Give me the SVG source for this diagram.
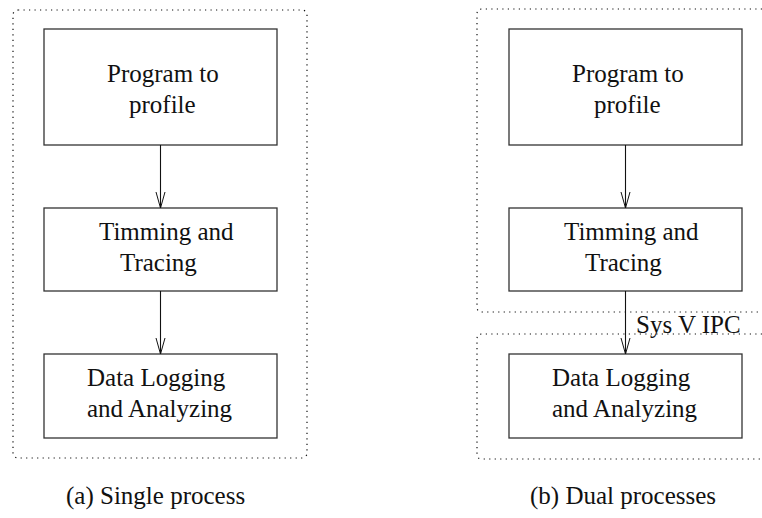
<svg xmlns="http://www.w3.org/2000/svg" width="762" height="518" viewBox="0 0 762 518" font-family="'Liberation Serif', 'Times New Roman', serif" font-size="25">
  <style>
    text { font-family: 'Liberation Serif', 'Times New Roman', serif; font-size: 25px; fill: #111; }
    .node { fill: #fff; stroke: #333; stroke-width: 1.3; }
    .group { fill: none; stroke: #111; stroke-width: 1.2; stroke-dasharray: 1.2 4.3; }
    .link { fill: none; stroke: #111; stroke-width: 1.1; }
    .head { fill: none; stroke: #111; stroke-width: 1; }
  </style>
  <rect width="762" height="518" fill="#fff"/>

  <!-- process boundaries -->
  <g id="boundaries">
    <rect class="group" x="13" y="10" width="294" height="448" rx="5"/>
    <path class="group" d="M762,9 H482 Q477,9 477,14 V307 Q477,312 482,312 H762"/>
    <path class="group" d="M762,334 H482 Q477,334 477,339 V454 Q477,459 482,459 H762"/>
  </g>

  <!-- (a) single process -->
  <g id="a-program">
    <rect class="node" x="44" y="29" width="233" height="116"/>
    <text x="107" y="82">Program to</text>
    <text x="129" y="113">profile</text>
  </g>
  <g id="a-timing">
    <rect class="node" x="44" y="208" width="233" height="83"/>
    <text x="99" y="240">Timming and</text>
    <text x="120" y="271">Tracing</text>
  </g>
  <g id="a-logging">
    <rect class="node" x="44" y="354" width="233" height="84"/>
    <text x="87" y="386">Data Logging</text>
    <text x="87" y="417">and Analyzing</text>
  </g>

  <!-- (b) dual processes -->
  <g id="b-program">
    <rect class="node" x="509" y="29" width="233" height="116"/>
    <text x="572" y="82">Program to</text>
    <text x="594" y="113">profile</text>
  </g>
  <g id="b-timing">
    <rect class="node" x="509" y="208" width="233" height="83"/>
    <text x="564" y="240">Timming and</text>
    <text x="585" y="271">Tracing</text>
  </g>
  <g id="b-logging">
    <rect class="node" x="509" y="354" width="233" height="84"/>
    <text x="552" y="386">Data Logging</text>
    <text x="552" y="417">and Analyzing</text>
  </g>

  <!-- connectors -->
  <g id="connectors">
    <line class="link" x1="160.5" y1="145" x2="160.5" y2="208"/>
    <path class="head" d="M156,192 L160.5,208 L165,192"/>
    <line class="link" x1="160.5" y1="291" x2="160.5" y2="354"/>
    <path class="head" d="M156,338 L160.5,354 L165,338"/>
    <line class="link" x1="625.5" y1="145" x2="625.5" y2="208"/>
    <path class="head" d="M621,192 L625.5,208 L630,192"/>
    <line class="link" x1="625.5" y1="291" x2="625.5" y2="354"/>
    <path class="head" d="M621,338 L625.5,354 L630,338"/>
    <text x="636" y="333">Sys V IPC</text>
  </g>

  <!-- captions -->
  <g id="captions">
    <text x="66" y="504">(a) Single process</text>
    <text x="530" y="504">(b) Dual processes</text>
  </g>
</svg>
